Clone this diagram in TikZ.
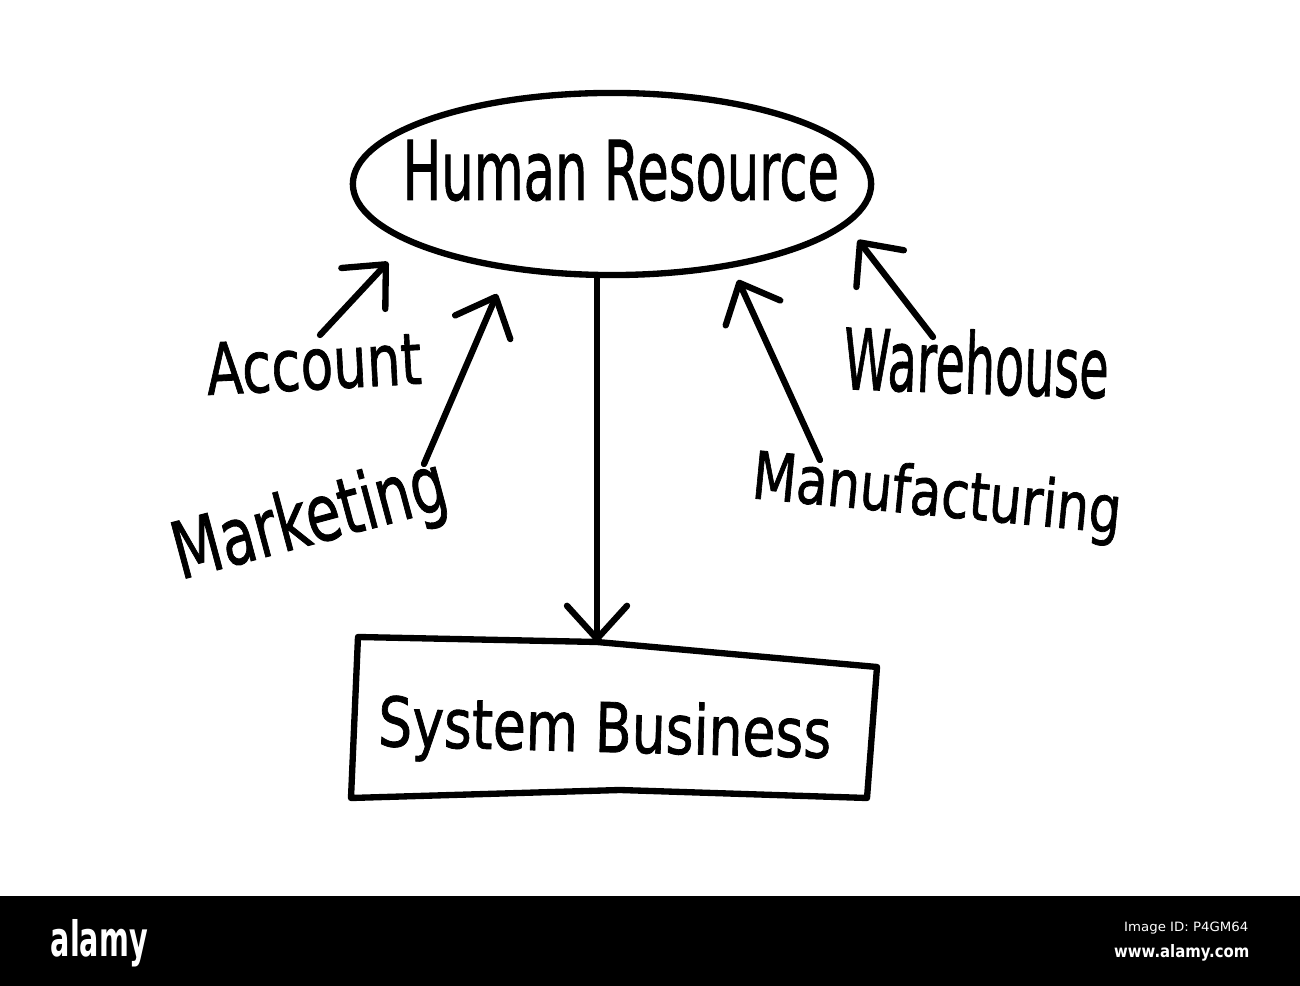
\documentclass[tikz,border=0pt]{standalone}
\usepackage{fontspec}
\usepackage{graphicx}
\setmainfont{DejaVu Sans}
\newfontfamily\penfont[FakeBold=1.2]{DejaVu Sans}
\usetikzlibrary{arrows.meta,shapes.geometric}
\newcommand{\hand}[3]{\resizebox{#1}{#2}{\penfont #3}}
\tikzset{
    pen/.style={line width=1.8pt, line cap=round, line join=round},
    barb/.style={pen, -{Straight Barb[length=3.3mm,width=6mm,round]}},
    word/.style={inner sep=0pt, anchor=base west},
}
\begin{document}
\begin{tikzpicture}[x=0.01cm, y=-0.01cm]
    \useasboundingbox (0,0) rectangle (1300,986);
    \fill[white] (0,0) rectangle (1300,986);
    \node[pen, draw, ellipse, inner sep=0pt, minimum width=5.18cm, minimum height=1.82cm] (HR) at (612,184) {};
    \node[word] (HRt) at (402,200) {\hand{4.36cm}{0.6cm}{Human Resource}};
    \coordinate (S1) at (358,637);
    \coordinate (S2) at (597,642);
    \coordinate (S3) at (877,667);
    \coordinate (S4) at (867,798);
    \coordinate (S5) at (620,790);
    \coordinate (S6) at (351,798);
    \draw[pen] (S1) -- (S2) -- (S3) -- (S4) -- (S5) -- (S6) -- cycle;
    \node[word, rotate=-1.5] (SB) at (377,746) {\hand{4.53cm}{0.52cm}{System Business}};
    \draw[barb] (HR.south -| S2) -- (S2);
    \node[word, rotate=3] (A) at (207,395) {\hand{2.15cm}{0.52cm}{Account}};
    \node[word, rotate=15] (M) at (180,580) {\hand{2.8cm}{0.6cm}{Marketing}};
    \node[word, rotate=-2] (W) at (842,389) {\hand{2.65cm}{0.64cm}{Warehouse}};
    \node[word, rotate=-5.5] (F) at (750,498) {\hand{3.7cm}{0.5cm}{Manufacturing}};
    \coordinate (A1) at (320,335);
    \coordinate (A2) at (388,262);
    \coordinate (M1) at (424,464);
    \coordinate (M2) at (497,294);
    \coordinate (F1) at (820,460);
    \coordinate (F2) at (738,280);
    \coordinate (W1) at (933,337);
    \coordinate (W2) at (858,240);
    \draw[barb] (A1) -- (A2);
    \draw[barb] (M1) -- (M2);
    \draw[barb] (F1) -- (F2);
    \draw[barb] (W1) -- (W2);
    \fill[black] (0,896) rectangle (1300,986);
    \node[word, text=white] (L) at (50,957) {\resizebox{0.97cm}{0.37cm}{\bfseries alamy}};
    \node[inner sep=0pt, anchor=base east, text=white] (ID) at (1249,932) {\resizebox{1.24cm}{0.095cm}{Image ID: P4GM64}};
    \node[inner sep=0pt, anchor=base east, text=white] (WWW) at (1250,958) {\resizebox{1.35cm}{0.13cm}{\bfseries www.alamy.com}};
\end{tikzpicture}
\end{document}
